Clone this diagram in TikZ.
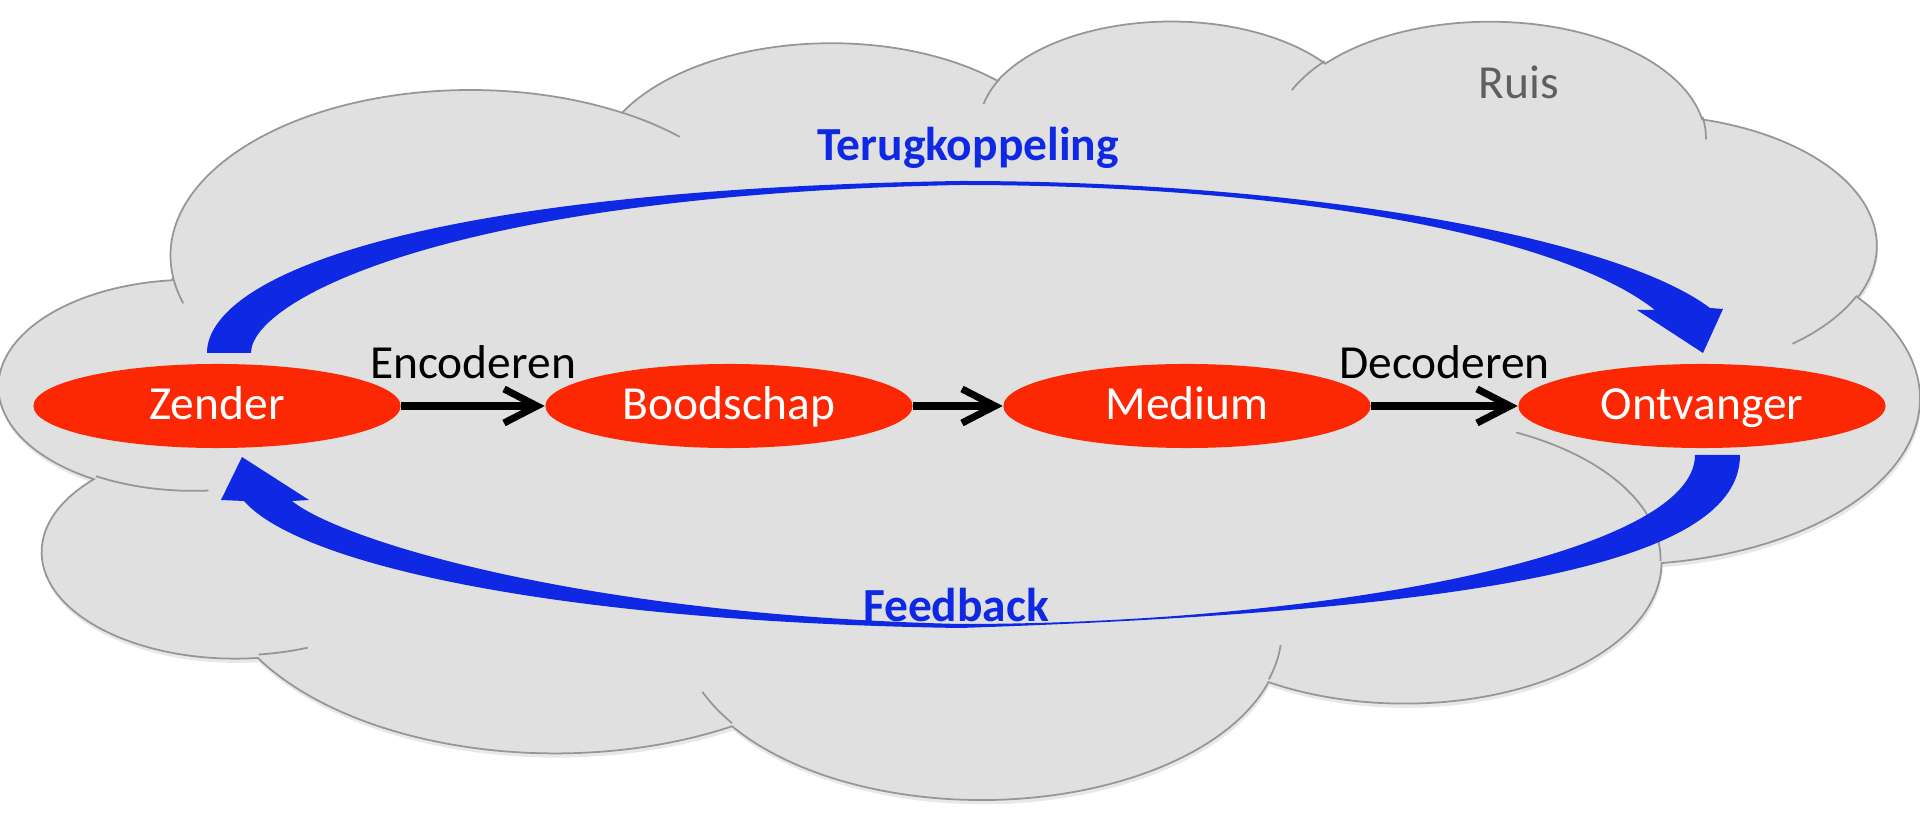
\documentclass[tikz,border=0pt]{standalone}
\usepackage{fontspec}
\setmainfont{Carlito}
\usetikzlibrary{shapes.geometric,arrows.meta,shadows}
\definecolor{wolk}{RGB}{224,224,224}
\definecolor{wolkrand}{RGB}{150,150,150}
\definecolor{rood}{RGB}{252,40,4}
\definecolor{fbblauw}{RGB}{14,40,228}
\definecolor{ruisgrijs}{RGB}{95,95,95}
\newcommand\tekstmaat{\fontsize{13.5}{16}\selectfont}
\tikzset{
  declare function={visang(\a,\b,\t)=atan2(\a*sin(\t),\b*cos(\t));},
  schakel/.style={ellipse, fill=rood, text=white, font=\tekstmaat, minimum width=3.67cm, minimum height=0.84cm, inner sep=0pt, text height=0.75em, text depth=0pt},
  pijl/.style={line width=2pt, -{Straight Barb[length=3.3mm,width=3.4mm]}},
  lus/.style={fill=fbblauw},
  lustekst/.style={text=fbblauw, font=\tekstmaat\bfseries},
  wolklijn/.style={draw=wolkrand, line width=0.5pt}
}
\newcommand\wolkboog[4]{arc[start angle={visang(#1,#2,#3)}, delta angle={mod(visang(#1,#2,#3+#4)-visang(#1,#2,#3)+720,360)}, x radius=#1, y radius=#2]}
\begin{document}
\begin{tikzpicture}[x=0.01cm, y=-0.01cm]
        \useasboundingbox (0,0) rectangle (1920,813);
        % 云
        \begin{scope}[shift={(0,19)}, x=0.0044444cm, y=-0.0018032cm]
        \path[fill=wolk, wolklijn, drop shadow={shadow xshift=0.3pt, shadow yshift=-1.2pt, opacity=0.18}] (390,1437)
          \wolkboog{675.3}{919}{-190.4875}{123.7805}
          \wolkboog{533.3}{726.7}{-144.1024}{89.9452}
          \wolkboog{436.5}{594.5}{-145.8079}{99.723}
          \wolkboog{485.7}{659.5}{-130.9861}{117.2417}
          \wolkboog{533.3}{727.3}{-78.7089}{109.0269}
          \wolkboog{677.5}{922}{-46.2673}{130.269}
          \wolkboog{578.5}{786.7}{0.625}{114.0333}
          \wolkboog{675.2}{921.5}{22.4516}{115.1726}
          \wolkboog{772}{1054.3}{66.2426}{75.711}
          \wolkboog{436}{591.8}{-274.9421}{146.7356}
          \wolkboog{434.5}{594.5}{-246.8285}{152.5189}
          -- cycle;
        \draw[wolklijn] (469.3,2617.7) \wolkboog{434.5}{594.5}{86.742}{26.4295}
          (692.8,3489.9) \wolkboog{436}{591.8}{73.6105}{11.4475}
          (1647.8,3909) \wolkboog{675.2}{921.5}{137.6242}{14.0811}
          (2882.7,3475.1) \wolkboog{675.2}{921.5}{6.4533}{15.9984}
          (3412.9,2295.4) \wolkboog{578.5}{786.7}{-70.2924}{70.9174}
          (4179.8,1535.4) \wolkboog{533.3}{727.3}{30.318}{27.7515}
          (3832.4,542.6) \wolkboog{485.7}{659.5}{-13.7443}{14.8589}
          (2907.8,395.2) \wolkboog{485.7}{659.5}{-149.1815}{18.1954}
          (2214.1,472) \wolkboog{436.5}{594.5}{-163.4943}{17.6864}
          (1400,519.2) \wolkboog{675.3}{919}{-66.707}{12.3194}
          (412.7,1578.9) \wolkboog{675.3}{919}{157.6544}{11.8582};
        \end{scope}
        \node[text=ruisgrijs, font=\tekstmaat, anchor=base] (ruis) at (1519,99) {Ruis};
        % 反馈箭头
        \fill[lus] (207,353) .. controls (207,280) and (400,190) .. (960,181)
          .. controls (1300,181) and (1614,236) .. (1710,308)
          -- (1723,309) -- (1703,353) -- (1637,310) -- (1655,310)
          .. controls (1560,235) and (1290,185) .. (960,185)
          .. controls (450,195) and (251,300) .. (251,353) -- cycle;
        \fill[lus] (1695,455) .. controls (1695,555) and (1320,624) .. (960,624)
          .. controls (580,615) and (340,540) .. (292,501)
          -- (309,500) -- (242,457) -- (221,500) -- (244,501)
          .. controls (300,565) and (560,622) .. (960,628)
          .. controls (1500,610) and (1740,560) .. (1740,455) -- cycle;
        \node[lustekst, anchor=base] (terugkoppeling) at (968,161) {Terugkoppeling};
        \node[lustekst, anchor=base] (feedback) at (956,622) {Feedback};
        % 节点
        \node[schakel] (zender) at (217,406) {Zender};
        \node[schakel] (boodschap) at (729,406) {Boodschap};
        \node[schakel] (medium) at (1187,406) {Medium};
        \node[schakel] (ontvanger) at (1702,406) {Ontvanger};
        \draw[pijl] (zender) -- (boodschap) node[midway, above=1.2mm, font=\tekstmaat] {Encoderen};
        \draw[pijl] (boodschap) -- (medium);
        \draw[pijl] (medium) -- (ontvanger) node[midway, above=1.2mm, font=\tekstmaat] {Decoderen};
    \end{tikzpicture}
\end{document}
